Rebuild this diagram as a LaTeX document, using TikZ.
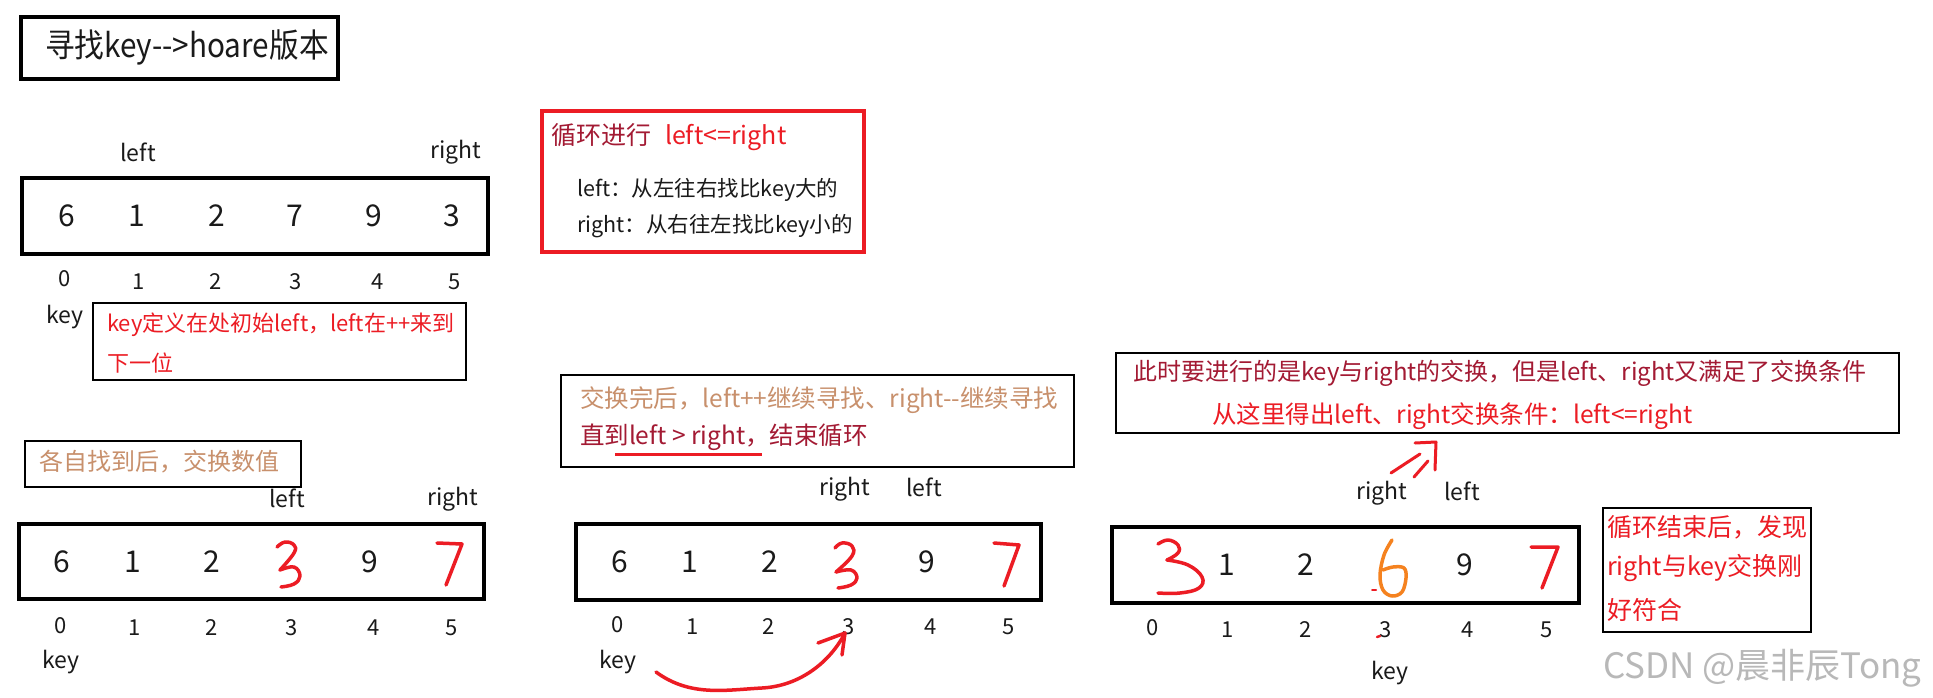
\documentclass[tikz,border=0pt]{standalone}
\usepackage{fontspec}
\setmainfont{Noto Sans CJK SC}
\definecolor{dred}{HTML}{A31A33}
\definecolor{bred}{HTML}{EC1C24}
\definecolor{tanc}{HTML}{C8906C}
\definecolor{orng}{HTML}{F5821F}
\definecolor{txt}{HTML}{1A1A1A}
\begin{document}
\begin{tikzpicture}[x=1pt,y=-1pt,
  every node/.style={inner sep=0pt, outer sep=0pt},
  lbl/.style={font=\fontsize{23}{26}\selectfont, text=txt, anchor=base},
  dig/.style={font=\fontsize{30}{34}\selectfont, text=txt, anchor=base},
  idx/.style={font=\fontsize{22}{26}\selectfont, text=txt, anchor=base},
  cj/.style={anchor=west, align=left},
  boxk/.style={draw=black, line width=3.5pt},
  boxr/.style={draw=bred, line width=3.5pt},
  boxt/.style={draw=black, line width=1.3pt},
  hand/.style={draw=bred, line width=3.5pt, line cap=round, line join=round},
  handor/.style={draw=orng, line width=3.5pt, line cap=round, line join=round}]
\useasboundingbox (0,0) rectangle (1933,698);
\fill[white] (0,0) rectangle (1933,698);

% boxes
\node[boxk, minimum width=317pt, minimum height=62pt] (tbox) at (179.5,48) {};
\node[boxk, minimum width=466pt, minimum height=76pt] (arr1) at (255,216) {};
\node[boxr, minimum width=322pt, minimum height=141pt] (rbox) at (703,181.5) {};
\node[boxt, minimum width=373pt, minimum height=77pt] (kbox) at (279.5,341.5) {};
\node[boxt, minimum width=276pt, minimum height=46pt] (tanbox) at (163,464) {};
\node[boxk, minimum width=465pt, minimum height=75pt] (arr2) at (251.5,561.5) {};
\node[boxt, minimum width=513pt, minimum height=92pt] (swbox) at (817.5,421) {};
\node[boxk, minimum width=465pt, minimum height=76pt] (arr3) at (808.5,562) {};
\node[boxt, minimum width=783pt, minimum height=80pt] (trbox) at (1507.5,393) {};
\node[boxk, minimum width=467pt, minimum height=76pt] (arr4) at (1345.5,565) {};
\node[boxt, minimum width=208pt, minimum height=124pt] (endbox) at (1707,570) {};

% title
\node[cj, font=\fontsize{33}{38}\selectfont, text=txt, xscale=0.9, transform shape] (title) at (45,47) {寻找key-{}->hoare版本};

% red box text
\node[cj, font=\fontsize{25}{28}\selectfont] (r1) at (551,137) {\textcolor{dred}{循环进行}\hspace{14pt}\textcolor{bred}{left<=right}};
\node[cj, font=\fontsize{21.5}{24}\selectfont, text=txt] (r2) at (577,190) {left：从左往右找比key大的};
\node[cj, font=\fontsize{21.5}{24}\selectfont, text=txt] (r3) at (577,226) {right：从右往左找比key小的};

% array 1
\node[lbl] (l1) at (138,161) {left};
\node[lbl] (rt1) at (456,159) {right};
\foreach \x/\v [count=\i from 0] in {67/6,137/1,217/2,295/7,374/9,452/3}
  \node[dig] (a1d\i) at (\x,226) {\v};
\node[idx] (a1i0) at (65,286) {0};
\foreach \x/\v in {139/1,216/2,296/3,378/4,455/5}
  \node[idx] (a1i\v) at (\x,289) {\v};
\node[lbl] (key1) at (65,323) {key};
\node[cj, font=\fontsize{22}{25}\selectfont, text=bred] (k1) at (107,325) {key定义在处初始left，left在++来到};
\node[cj, font=\fontsize{22}{25}\selectfont, text=bred] (k2) at (107,363) {下一位};

% array 2
\node[cj, font=\fontsize{24}{27}\selectfont, text=tanc] (tan1) at (39,462) {各自找到后，交换数值};
\node[lbl] (l2) at (287,507) {left};
\node[lbl] (rt2) at (453,505) {right};
\foreach \x/\v in {62/6,133/1,212/2,370/9}
  \node[dig] (a2d\v) at (\x,572) {\v};
\node[idx] (a2i0) at (61,633) {0};
\foreach \x/\v in {135/1,212/2,292/3,374/4,452/5}
  \node[idx] (a2i\v) at (\x,635) {\v};
\node[lbl] (key2) at (61,668) {key};
\draw[hand] plot[smooth, tension=0.7] coordinates {(277,547) (285,542) (294,545) (294,553) (280,570)};
\draw[hand] plot[smooth, tension=0.7] coordinates {(280,570) (294,567) (300,576) (294,584) (281,587)};
\draw[hand] (437,543) -- (462,544) -- (446,585);

% swap box
\node[cj, font=\fontsize{24.5}{28}\selectfont, text=tanc] (s1) at (580,400) {交换完后，left++继续寻找、right-{}-继续寻找};
\node[cj, font=\fontsize{24.5}{28}\selectfont, text=dred] (s2) at (580,437) {直到left > right，结束循环};
\coordinate (ul1) at (615,454);
\coordinate (ul2) at (762,454);
\draw[bred, line width=3pt] (ul1) -- (ul2);

% array 3
\node[lbl] (rt3) at (845,495) {right};
\node[lbl] (l3) at (924,496) {left};
\foreach \x/\v in {620/6,690/1,770/2,927/9}
  \node[dig] (a3d\v) at (\x,572) {\v};
\node[idx] (a3i0) at (618,632) {0};
\foreach \x/\v in {693/1,769/2,849/3,931/4,1009/5}
  \node[idx] (a3i\v) at (\x,634) {\v};
\node[lbl] (key3) at (618,668) {key};
\draw[hand] plot[smooth, tension=0.7] coordinates {(835,548) (842,543) (852,546) (852,556) (836,572)};
\draw[hand] plot[smooth, tension=0.7] coordinates {(836,572) (851,570) (857,578) (851,585) (838,588)};
\draw[hand] (994,543) -- (1019,545) -- (1004,586);
\coordinate (kstart) at (656,672);
\coordinate (ktip) at (845,633);
\draw[hand] (kstart) .. controls (690,697) and (725,690) .. (762,688) .. controls (800,686) and (830,662) .. (ktip);
\draw[hand] (818,643) -- (ktip) -- (842,655);

% top-right box
\node[cj, font=\fontsize{24}{27}\selectfont, text=dred] (t1) at (1133,373) {此时要进行的是key与right的交换，但是left、right又满足了交换条件};
\node[cj, font=\fontsize{24.5}{27}\selectfont, text=bred] (t2) at (1212,416) {从这里得出left、right交换条件：left<=right};
\coordinate (da1) at (1391,473);
\coordinate (da2) at (1420,454);
\coordinate (db1) at (1414,477);
\coordinate (db2) at (1428,461);
\coordinate (dh1) at (1415,443);
\coordinate (dh) at (1436,442);
\coordinate (dh2) at (1435,470);
\draw[hand, line width=3pt] (da1) -- (da2);
\draw[hand, line width=3pt] (db1) -- (db2);
\draw[hand, line width=3pt] (dh1) -- (dh) -- (dh2);

% array 4
\node[lbl] (rt4) at (1382,499) {right};
\node[lbl] (l4) at (1462,500) {left};
\foreach \x/\v in {1227/1,1306/2,1465/9}
  \node[dig] (a4d\v) at (\x,575) {\v};
\node[idx] (a4i0) at (1153,635) {0};
\foreach \x/\v in {1228/1,1306/2,1386/3,1468/4,1547/5}
  \node[idx] (a4i\v) at (\x,637) {\v};
\node[lbl] (key4) at (1390,679) {key};
\draw[hand] plot[smooth, tension=0.7] coordinates {(1158,544) (1168,540) (1178,545) (1178,553) (1167,560)};
\draw[hand] plot[smooth, tension=0.7] coordinates {(1167,560) (1188,565) (1202,577) (1199,588) (1180,593) (1158,593)};
\draw[handor] plot[smooth, tension=0.6] coordinates {(1392,540) (1384,555) (1380,575) (1383,590) (1392,596) (1402,592) (1406,578) (1404,568) (1393,567) (1383,570)};
\draw[hand, line width=2pt] (1372,590) -- (1376,590);
\draw[hand] (1531,547) -- (1558,547) -- (1542,588);
\draw[hand, line width=2.5pt] (1377,637) -- (1380,636);

% end box
\node[cj, font=\fontsize{25}{28}\selectfont, text=bred] (e1) at (1607,527) {循环结束后，发现};
\node[cj, font=\fontsize{25}{28}\selectfont, text=bred] (e2) at (1607,568) {right与key交换刚};
\node[cj, font=\fontsize{25}{28}\selectfont, text=bred] (e3) at (1607,610) {好符合};

% watermark
\node[cj, font=\fontsize{35}{38}\selectfont, text=black!28] (wm) at (1603,668) {CSDN @晨非辰Tong};
\end{tikzpicture}
\end{document}
